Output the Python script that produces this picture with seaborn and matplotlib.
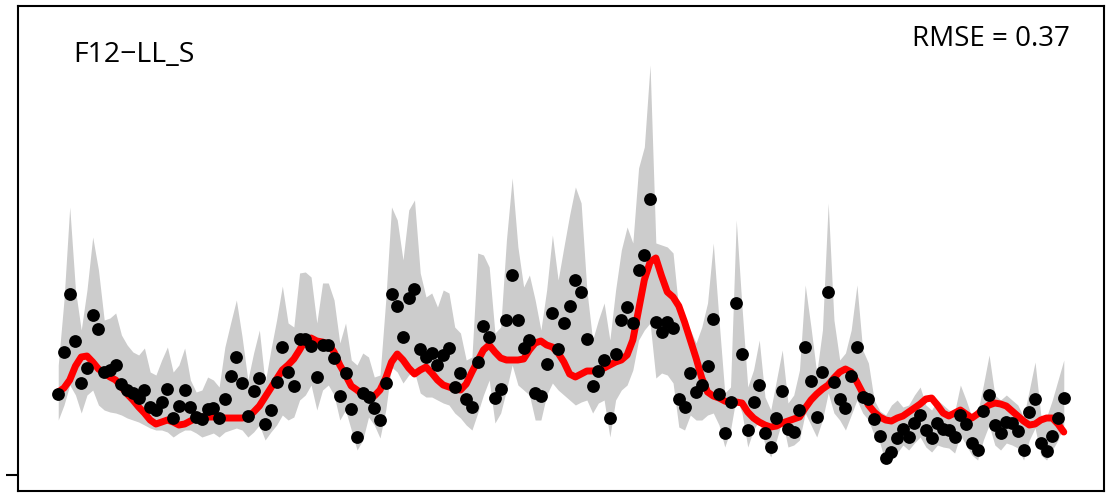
import numpy as np
import matplotlib
matplotlib.use("Agg")
import matplotlib.pyplot as plt
import seaborn as sns

# observed values (black dots), one per time step
observed = [
    0.81, 1.23, 1.81, 1.34, 0.92, 1.07, 1.60, 1.46, 1.03, 1.05,
    1.10, 0.91, 0.85, 0.82, 0.77, 0.85, 0.68, 0.65, 0.73, 0.86,
    0.57, 0.69, 0.85, 0.68, 0.58, 0.56, 0.66, 0.67, 0.57, 0.76,
    0.99, 1.18, 0.92, 0.59, 0.84, 0.97, 0.51, 0.65, 0.93, 1.28,
    1.03, 0.89, 1.36, 1.36, 1.29, 0.98, 1.30, 1.30, 1.17, 0.79,
    1.02, 0.66, 0.38, 0.82, 0.78, 0.67, 0.55, 0.92, 1.81, 1.69,
    1.38, 1.77, 1.86, 1.26, 1.18, 1.22, 1.10, 1.20, 1.27, 0.88,
    1.02, 0.76, 0.68, 1.13, 1.49, 1.38, 0.77, 0.86, 1.55, 2.00,
    1.55, 1.27, 1.35, 0.82, 0.79, 1.11, 1.62, 1.26, 1.52, 1.69,
    1.95, 1.83, 1.36, 0.89, 1.04, 1.15, 0.57, 1.21, 1.55, 1.68,
    1.52, 2.05, 2.20, 2.76, 1.53, 1.43, 1.53, 1.47, 0.76, 0.68,
    1.02, 0.83, 0.90, 1.09, 1.56, 0.81, 0.42, 0.73, 1.72, 1.21,
    0.45, 0.73, 0.90, 0.42, 0.28, 0.57, 0.84, 0.46, 0.43, 0.65,
    1.28, 0.94, 0.58, 1.03, 1.83, 0.93, 0.76, 0.67, 0.99, 1.28,
    0.78, 0.76, 0.56, 0.39, 0.17, 0.23, 0.37, 0.46, 0.38, 0.52,
    0.60, 0.45, 0.37, 0.52, 0.46, 0.45, 0.38, 0.60, 0.51, 0.32,
    0.25, 0.64, 0.80, 0.50, 0.42, 0.53, 0.52, 0.44, 0.25, 0.63,
    0.76, 0.32, 0.24, 0.39, 0.57, 0.77,
]

# model prediction (red line)
predicted = [
    0.83, 0.87, 0.95, 1.09, 1.18, 1.19, 1.13, 1.06, 1.02, 0.98,
    0.95, 0.88, 0.81, 0.75, 0.68, 0.62, 0.55, 0.51, 0.53, 0.55,
    0.53, 0.50, 0.51, 0.54, 0.57, 0.58, 0.58, 0.58, 0.58, 0.57,
    0.57, 0.57, 0.57, 0.58, 0.63, 0.69, 0.78, 0.87, 0.96, 1.05,
    1.10, 1.16, 1.25, 1.35, 1.37, 1.34, 1.33, 1.31, 1.23, 1.10,
    1.00, 0.89, 0.85, 0.80, 0.77, 0.79, 0.85, 0.97, 1.13, 1.21,
    1.15, 1.07, 1.01, 1.05, 1.08, 1.02, 0.95, 0.90, 0.88, 0.86,
    0.85, 0.91, 1.03, 1.14, 1.25, 1.30, 1.23, 1.17, 1.15, 1.15,
    1.15, 1.16, 1.25, 1.32, 1.34, 1.30, 1.28, 1.22, 1.13, 1.01,
    0.98, 1.01, 1.04, 1.04, 1.05, 1.07, 1.10, 1.13, 1.15, 1.20,
    1.35, 1.65, 1.95, 2.13, 2.17, 1.99, 1.83, 1.78, 1.69, 1.53,
    1.35, 1.17, 0.97, 0.83, 0.79, 0.77, 0.74, 0.72, 0.73, 0.72,
    0.63, 0.57, 0.53, 0.50, 0.48, 0.49, 0.52, 0.54, 0.56, 0.58,
    0.67, 0.75, 0.81, 0.86, 0.90, 0.97, 1.03, 1.06, 1.03, 0.93,
    0.82, 0.70, 0.63, 0.58, 0.55, 0.54, 0.57, 0.59, 0.63, 0.67,
    0.71, 0.76, 0.77, 0.70, 0.62, 0.59, 0.62, 0.65, 0.61, 0.57,
    0.61, 0.66, 0.70, 0.72, 0.71, 0.69, 0.64, 0.59, 0.54, 0.50,
    0.51, 0.55, 0.57, 0.57, 0.51, 0.43,
]

# prediction band (grey)
upper = [
    1.10, 1.75, 2.68, 1.85, 1.45, 1.85, 2.38, 2.05, 1.55, 1.57,
    1.62, 1.40, 1.30, 1.23, 1.20, 1.27, 1.03, 1.00, 1.15, 1.28,
    1.03, 1.10, 1.27, 0.95, 0.83, 0.85, 0.98, 0.95, 0.88, 1.28,
    1.52, 1.75, 1.38, 0.95, 1.22, 1.45, 0.92, 1.25, 1.55, 1.89,
    1.52, 1.48, 2.02, 2.03, 1.98, 1.52, 1.92, 1.92, 1.75, 1.32,
    1.52, 1.15, 1.10, 1.22, 1.18, 0.98, 1.00, 1.75, 2.68, 2.55,
    2.15, 2.65, 2.75, 2.02, 1.78, 1.82, 1.68, 1.85, 1.82, 1.48,
    1.42, 1.15, 1.18, 2.22, 2.20, 2.08, 1.42, 1.48, 2.35, 2.97,
    2.28, 1.88, 2.00, 1.75, 1.45, 1.85, 2.40, 1.95, 2.28, 2.60,
    2.88, 2.72, 1.85, 1.35, 1.55, 1.72, 1.35, 1.85, 2.25, 2.48,
    2.32, 3.07, 3.28, 4.10, 2.32, 2.30, 2.28, 2.22, 1.65, 1.52,
    1.45, 1.32, 1.48, 1.72, 2.32, 1.55, 0.82, 0.88, 2.55, 1.68,
    0.88, 1.05, 1.35, 0.78, 0.65, 0.95, 1.25, 0.72, 0.80, 1.05,
    1.90, 1.48, 1.02, 1.45, 2.72, 1.55, 1.15, 1.22, 1.45, 1.90,
    1.25, 1.12, 0.75, 0.64, 0.60, 0.70, 0.75, 0.68, 0.70, 0.80,
    0.88, 0.70, 0.65, 0.75, 0.70, 0.65, 0.63, 0.90, 0.75, 0.58,
    0.62, 0.90, 1.20, 0.80, 0.75, 0.80, 0.75, 0.70, 0.58, 0.85,
    1.13, 0.60, 0.58, 0.75, 0.95, 1.15,
]
lower = [
    0.55, 0.70, 0.90, 0.80, 0.62, 0.80, 0.85, 0.70, 0.65, 0.63,
    0.62, 0.60, 0.57, 0.55, 0.53, 0.50, 0.47, 0.45, 0.45, 0.43,
    0.38, 0.42, 0.45, 0.45, 0.42, 0.38, 0.40, 0.42, 0.38, 0.43,
    0.45, 0.47, 0.45, 0.38, 0.43, 0.50, 0.35, 0.43, 0.50, 0.60,
    0.55, 0.58, 0.75, 0.80, 0.90, 0.65, 0.85, 0.90, 0.80, 0.55,
    0.65, 0.45, 0.25, 0.35, 0.58, 0.50, 0.37, 0.65, 1.08, 1.03,
    0.92, 1.00, 1.03, 0.82, 0.78, 0.78, 0.75, 0.72, 0.70, 0.62,
    0.57, 0.50, 0.45, 0.62, 0.80, 0.95, 0.52, 0.62, 0.85, 1.10,
    0.90, 0.85, 0.80, 0.55, 0.55, 0.80, 0.92, 0.85, 0.80, 0.75,
    0.70, 0.73, 0.75, 0.62, 0.72, 0.75, 0.38, 0.75, 0.85, 0.90,
    1.05, 1.35, 1.45, 1.52, 0.97, 1.02, 1.00, 0.92, 0.48, 0.45,
    0.60, 0.55, 0.55, 0.60, 0.62, 0.50, 0.28, 0.45, 0.78, 0.62,
    0.28, 0.45, 0.55, 0.30, 0.18, 0.35, 0.55, 0.28, 0.30, 0.35,
    0.62, 0.50, 0.38, 0.55, 0.82, 0.62, 0.55, 0.45, 0.60, 0.75,
    0.62, 0.55, 0.40, 0.32, 0.12, 0.15, 0.22, 0.30, 0.25, 0.32,
    0.38, 0.28, 0.23, 0.30, 0.28, 0.27, 0.22, 0.40, 0.30, 0.20,
    0.15, 0.35, 0.50, 0.30, 0.25, 0.32, 0.30, 0.27, 0.15, 0.35,
    0.47, 0.20, 0.15, 0.25, 0.35, 0.50,
]

site_label = "F12\u2212LL_S"
rmse_label = "RMSE = 0.37"

t = np.arange(1, len(observed) + 1)

sns.set_theme(style="white")
plt.rcParams["font.family"] = ["Open Sans", "DejaVu Sans"]

fig = plt.figure(figsize=(11.19, 4.94), dpi=100)
ax = fig.add_axes([0.0161, 0.006, 0.9705, 0.982])

ax.fill_between(t, lower, upper, color="#cccccc", linewidth=0, zorder=1)
sns.lineplot(x=t, y=predicted, color="#ff0000", linewidth=5, ax=ax, zorder=2)
sns.scatterplot(x=t, y=observed, color="black", s=85, linewidth=0, ax=ax, zorder=3)

ax.set_xlim(-6.0, 183.0)
ax.set_ylim(-0.16, 4.69)
ax.set_xticks([])
ax.set_yticks([0])
ax.set_yticklabels([])
ax.tick_params(axis="y", direction="out", length=9, width=1.5, color="black", left=True)
ax.set_xlabel("")
ax.set_ylabel("")
for side in ax.spines.values():
    side.set_color("black")
    side.set_linewidth(1.5)

ax.text(0.0506, 0.898, site_label, transform=ax.transAxes, fontsize=20.5,
        ha="left", va="center", color="black")
ax.text(0.969, 0.932, rmse_label, transform=ax.transAxes, fontsize=20,
        ha="right", va="center", color="black")

fig.savefig("out.png", dpi=100)
